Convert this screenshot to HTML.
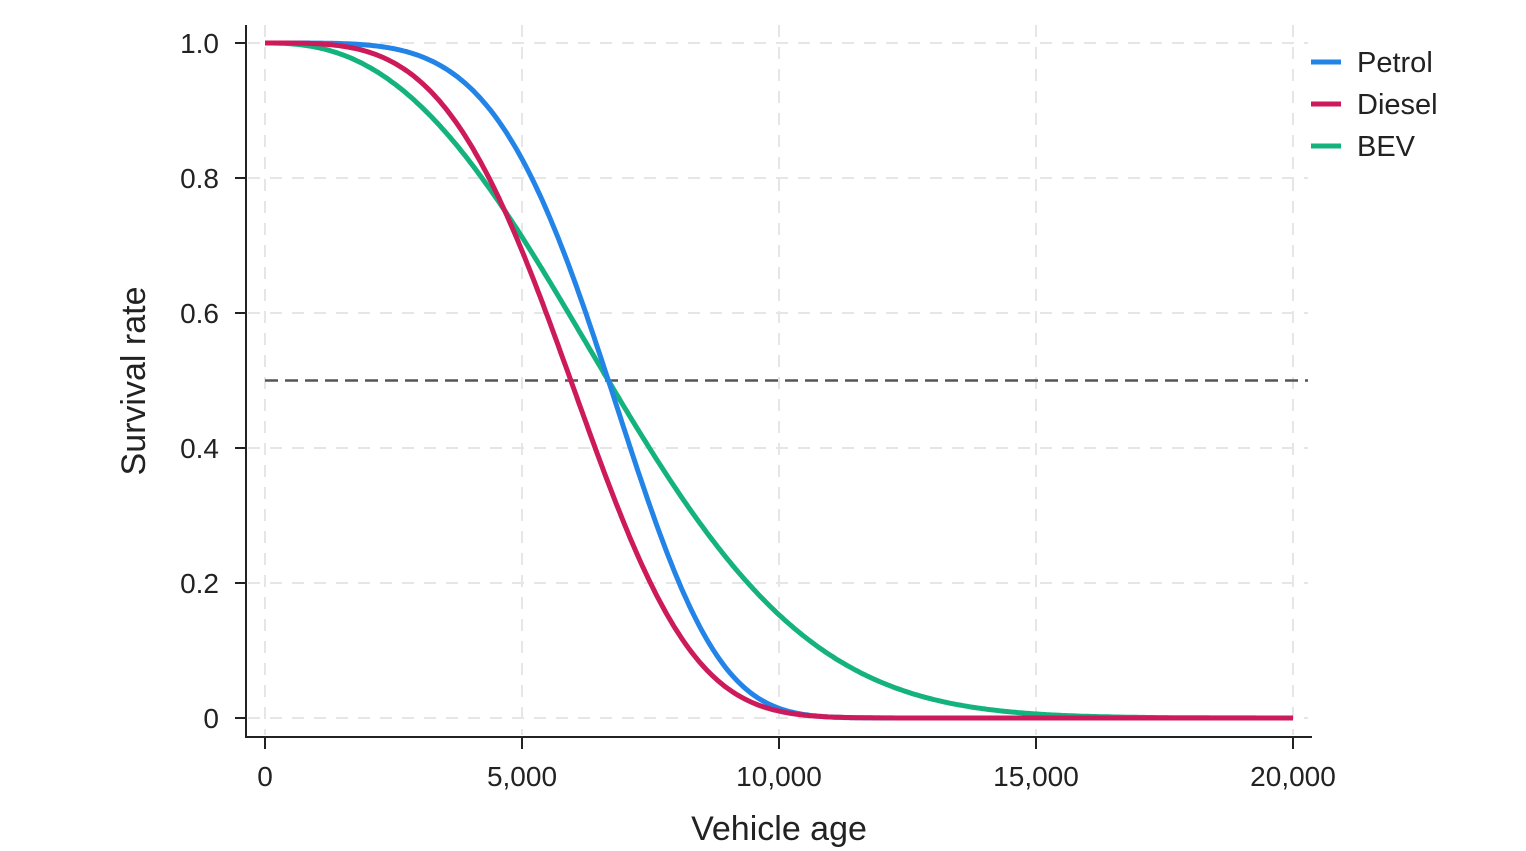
<!DOCTYPE html>
<html><head><meta charset="utf-8"><style>
html,body{margin:0;padding:0;background:#fff;}
svg{display:block;font-family:"Liberation Sans",sans-serif;}
</style></head><body>
<svg id="s" width="1526" height="851" viewBox="0 0 1526 851" xmlns="http://www.w3.org/2000/svg">
<g stroke="#e6e6e6" stroke-width="2" stroke-dasharray="12,10">
<line x1="265" y1="25" x2="265" y2="735"/>
<line x1="522" y1="25" x2="522" y2="735"/>
<line x1="779" y1="25" x2="779" y2="735"/>
<line x1="1036" y1="25" x2="1036" y2="735"/>
<line x1="1293" y1="25" x2="1293" y2="735"/>
<line x1="248" y1="43" x2="1308" y2="43"/>
<line x1="248" y1="178" x2="1308" y2="178"/>
<line x1="248" y1="313" x2="1308" y2="313"/>
<line x1="248" y1="448" x2="1308" y2="448"/>
<line x1="248" y1="583" x2="1308" y2="583"/>
<line x1="248" y1="718" x2="1308" y2="718"/>
</g>
<line x1="265" y1="380.5" x2="1308" y2="380.5" stroke="#555" stroke-width="2.5" stroke-dasharray="13,7"/>
<g stroke="#222" stroke-width="2" fill="none">
<line x1="246" y1="25" x2="246" y2="737"/>
<line x1="245" y1="737" x2="1312" y2="737"/>
<line x1="235" y1="43" x2="246" y2="43"/><line x1="235" y1="178" x2="246" y2="178"/><line x1="235" y1="313" x2="246" y2="313"/><line x1="235" y1="448" x2="246" y2="448"/><line x1="235" y1="583" x2="246" y2="583"/><line x1="235" y1="718" x2="246" y2="718"/>
<line x1="265" y1="737" x2="265" y2="749"/><line x1="522" y1="737" x2="522" y2="749"/><line x1="779" y1="737" x2="779" y2="749"/><line x1="1036" y1="737" x2="1036" y2="749"/><line x1="1293" y1="737" x2="1293" y2="749"/>
</g>
<g font-size="28" fill="#222" text-anchor="end">
<text x="219" y="53">1.0</text><text x="219" y="188">0.8</text><text x="219" y="323">0.6</text><text x="219" y="458">0.4</text><text x="219" y="593">0.2</text><text x="219" y="728">0</text>
</g>
<g font-size="28" fill="#222" text-anchor="middle">
<text x="265" y="786">0</text><text x="522" y="786">5,000</text><text x="779" y="786">10,000</text><text x="1036" y="786">15,000</text><text x="1293" y="786">20,000</text>
</g>
<text x="779" y="840" font-size="34" fill="#222" text-anchor="middle">Vehicle age</text>
<text transform="translate(145,381) rotate(-90)" font-size="34" fill="#222" text-anchor="middle">Survival rate</text>
<path id="bev" fill="none" stroke="#14b37d" stroke-width="5"/>
<path id="pet" fill="none" stroke="#2384e8" stroke-width="5"/>
<path id="die" fill="none" stroke="#cc1a5a" stroke-width="5"/>
<g stroke-width="5">
<line x1="1311" y1="62" x2="1341" y2="62" stroke="#2384e8"/>
<line x1="1311" y1="104" x2="1341" y2="104" stroke="#cc1a5a"/>
<line x1="1311" y1="146" x2="1341" y2="146" stroke="#14b37d"/>
</g>
<g font-size="29" fill="#222">
<text x="1357" y="72">Petrol</text><text x="1357" y="114">Diesel</text><text x="1357" y="156">BEV</text>
</g>
</svg>
<script>
function mk(id,med,k){var lam=med/Math.pow(Math.LN2,1/k),d="";for(var t=0;t<=20000;t+=50){var s=Math.exp(-Math.pow(t/lam,k));var x=265+t*1028/20000,y=718-s*675;d+=(t?"L":"M")+x.toFixed(1)+","+y.toFixed(1);}document.getElementById(id).setAttribute("d",d);}
mk("bev",6680,2.47);mk("pet",6680,4.49);mk("die",5950,3.64);
</script>
</body></html>
